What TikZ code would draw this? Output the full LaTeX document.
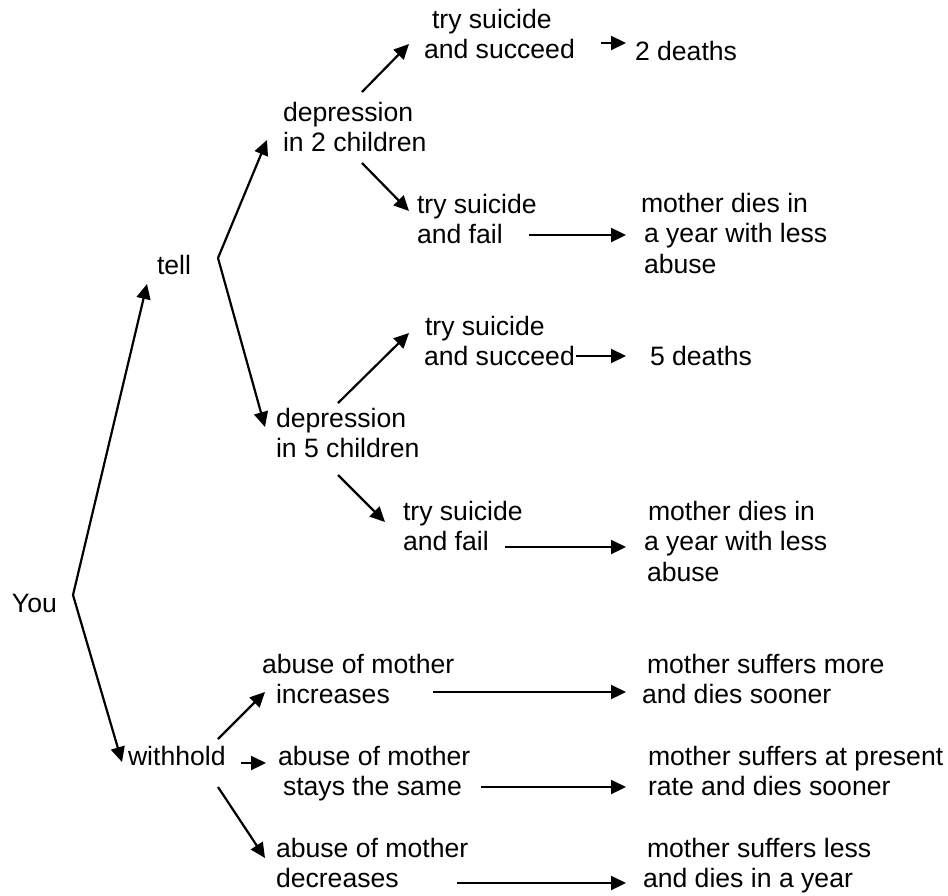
\documentclass[tikz,border=0pt]{standalone}
\usepackage{fontspec}
\setmainfont{Liberation Sans}
\usetikzlibrary{arrows.meta}
\newcommand{\myline}[2][0]{\hbox{\hspace*{#1pt}#2}}
\newcommand{\mybox}[1]{\vtop{#1}}
\tikzset{
  txt/.style={anchor=base west, inner sep=0pt, outer sep=0pt,
    font=\fontsize{26.6pt}{30.5pt}\selectfont},
  arr/.style={line width=2.2pt, -{Triangle[length=15pt,width=14pt]}}
}
\begin{document}
\begin{tikzpicture}[x=1pt,y=-1pt]
\useasboundingbox[fill=white] (0,0) rectangle (948,895);
% nodes
\node[txt] (you) at (12,612) {You};
\node[txt] (tell) at (157,274) {tell};
\node[txt] (withhold) at (128,765) {withhold};
\node[txt] (dep2) at (283,121) {\mybox{\myline{depression}\myline{in 2 children}}};
\node[txt] (succ1) at (424,28) {\mybox{\myline[8]{try suicide}\myline{and succeed}}};
\node[txt] (d2) at (635,60) {2 deaths};
\node[txt] (fail1) at (417,213) {\mybox{\myline{try suicide}\myline{and fail}}};
\node[txt] (mom1) at (641,212) {\mybox{\myline{mother dies in}\myline[3]{a year with less}\myline[3]{abuse}}};
\node[txt] (dep5) at (276,427) {\mybox{\myline{depression}\myline{in 5 children}}};
\node[txt] (succ2) at (424,335) {\mybox{\myline[1]{try suicide}\myline{and succeed}}};
\node[txt] (d5) at (650,365) {5 deaths};
\node[txt] (fail2) at (403,520) {\mybox{\myline{try suicide}\myline{and fail}}};
\node[txt] (mom2) at (644,520) {\mybox{\myline[4]{mother dies in}\myline{a year with less}\myline[3]{abuse}}};
\node[txt] (inc) at (262,673) {\mybox{\myline{abuse of mother}\myline[14]{increases}}};
\node[txt] (same) at (278,765) {\mybox{\myline{abuse of mother}\myline[5]{stays the same}}};
\node[txt] (dec) at (276,857) {\mybox{\myline{abuse of mother}\myline{decreases}}};
\node[txt] (more) at (642,673) {\mybox{\myline[5]{mother suffers more}\myline{and dies sooner}}};
\node[txt] (present) at (648,765) {\mybox{\myline{mother suffers at present}\myline{rate and dies sooner}}};
\node[txt] (less) at (643,857) {\mybox{\myline[4]{mother suffers less}\myline{and dies in a year}}};
% connectors
\draw[arr] ([shift={(61,-17)}]you.base west) -- ([shift={(-10,10)}]tell.base west);
\draw[arr] ([shift={(61,-17)}]you.base west) -- ([shift={(-6,-3)}]withhold.base west);
\draw[arr] ([shift={(61,-16)}]tell.base west) -- ([shift={(-16,19)}]dep2.base west);
\draw[arr] ([shift={(61,-16)}]tell.base west) -- ([shift={(-11,0)}]dep5.base west);
\draw[arr] ([shift={(79,-29)}]dep2.base west) -- ([shift={(-15,16)}]succ1.base west);
\draw[arr] ([shift={(79,42)}]dep2.base west) -- ([shift={(-8,-2)}]fail1.base west);
\draw[arr] ([shift={(177,15)}]succ1.base west) -- ([shift={(-9,-17)}]d2.base west);
\draw[arr] ([shift={(112,22)}]fail1.base west) -- ([shift={(-15,23)}]mom1.base west);
\draw[arr] ([shift={(62,-24)}]dep5.base west) -- ([shift={(-15,-2)}]succ2.base west);
\draw[arr] ([shift={(62,48)}]dep5.base west) -- ([shift={(-18,2)}]fail2.base west);
\draw[arr] ([shift={(152,21)}]succ2.base west) -- ([shift={(-24,-9)}]d5.base west);
\draw[arr] ([shift={(102,27)}]fail2.base west) -- ([shift={(-18,27)}]mom2.base west);
\draw[arr] ([shift={(90,-26)}]withhold.base west) -- ([shift={(3,19)}]inc.base west);
\draw[arr] ([shift={(113,-2)}]withhold.base west) -- ([shift={(-12,-2)}]same.base west);
\draw[arr] ([shift={(90,22)}]withhold.base west) -- ([shift={(-11,1)}]dec.base west);
\draw[arr] ([shift={(171,19)}]inc.base west) -- ([shift={(-16,19)}]more.base west);
\draw[arr] ([shift={(203,22)}]same.base west) -- ([shift={(-22,22)}]present.base west);
\draw[arr] ([shift={(181,26)}]dec.base west) -- ([shift={(-17,26)}]less.base west);
\end{tikzpicture}
\end{document}
